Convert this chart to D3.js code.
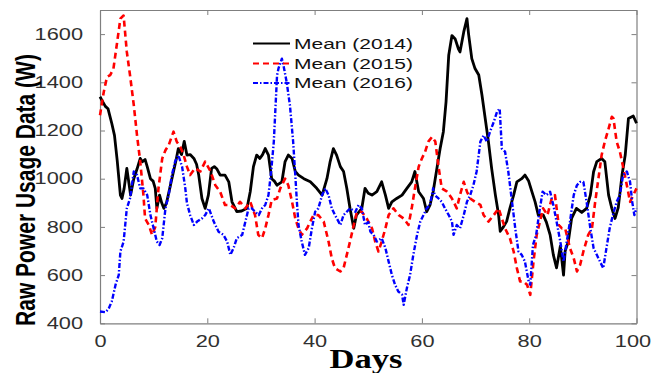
<!DOCTYPE html>
<html><head><meta charset="utf-8">
<script src="https://cdn.jsdelivr.net/npm/d3@7"></script>
<style>
html,body{margin:0;padding:0;background:#fff;}
svg{display:block;}
</style>
</head><body>
<svg id="chart" width="651" height="373"></svg>
<script>
// ---- data ----
const seriesNames = ["Mean (2014)", "Mean (2015)", "Mean (2016)"];
const xTicks = [0, 20, 40, 60, 80, 100];
const yTicks = [400, 600, 800, 1000, 1200, 1400, 1600];

const days2014 = [0,0.5,1,1.5,2.2,2.7,3.2,3.8,4.1,4.5,5,5.4,5.7,6.3,6.9,7.5,7.9,8.4,8.8,9.4,9.9,10.3,10.6,11.1,11.5,11.9,12.4,13,13.7,14.2,14.6,15.2,15.7,16.2,16.8,17.5,18,18.4,19,19.6,20.2,20.8,21.3,21.8,22.4,23.3,24,24.6,25.5,26.4,27.4,28,28.6,29.2,29.8,30.3,30.8,31.4,32,32.5,33,33.9,34.5,35.1,35.8,36.4,37,38,39.2,40.4,41.4,42.3,42.9,43.5,44.1,44.8,45.4,46,46.6,47.3,47.8,48.8,49.4,50,50.7,51.6,52.5,53.2,53.8,54.4,55.3,56.3,57.2,58.1,58.7,59.4,60.3,60.9,61.5,62.1,62.8,63.4,64,64.5,65,65.6,66.2,66.8,67.1,67.8,68.4,68.7,69.3,69.9,70.6,71.2,71.8,72.4,73,73.7,74.3,74.6,75.2,75.8,76.4,77.1,77.7,78.6,79.2,79.9,80.5,81.1,81.7,82.6,83.2,83.9,84.5,85.1,85.8,86.4,86.7,87.3,87.9,88.8,89.8,90.7,91.4,92,92.6,93.5,94.1,94.8,95.4,96,96.6,97.3,97.9,98.5,99.4,100];
const values2014 = [1340,1320,1300,1290,1229,1180,1077,932,918,960,1043,980,932,1000,1040,1084,1070,1080,1050,1000,990,960,877,932,900,877,900,960,1030,1080,1125,1100,1155,1098,1100,1084,1060,1015,918,877,932,1043,1050,1040,1015,1015,987,904,863,866,877,946,1050,1098,1084,1100,1125,1098,1000,990,973,987,1071,1098,1084,1030,1015,1000,987,960,932,1000,1071,1125,1098,1050,1030,960,877,794,849,877,960,940,932,946,987,932,877,904,918,932,960,987,1030,946,918,863,890,946,1043,1125,1195,1319,1512,1594,1580,1539,1526,1609,1664,1600,1498,1457,1430,1346,1250,1154,1043,932,849,782,800,823,877,932,987,1000,1015,990,946,904,849,850,820,767,684,630,720,600,700,740,835,877,860,877,932,1029,1071,1084,1070,932,877,835,880,1015,1098,1250,1260,1230];

const days2015 = [0,0.7,1.3,1.9,2.5,3.2,3.8,4.4,5,5.6,6.3,6.9,7.5,8.1,8.4,9.1,9.7,10.3,10.9,11.6,12.2,12.8,13.7,14.3,15,15.6,16.2,16.8,17.7,18.7,19.6,20.6,21.5,22.4,23.3,24.3,25.2,26.1,27.1,28,28.9,29.5,30.2,30.8,31.4,32,33,33.6,34.5,35.1,35.8,36.4,37,37.6,38.6,39.2,39.8,40.7,41.7,42.6,43.2,43.8,44.8,45.4,46,46.6,47.3,47.9,48.8,49.7,50.7,51.3,51.9,52.5,53.2,53.8,54.7,55.7,56.6,57.5,58.1,58.7,59.4,60,60.6,61.2,61.9,62.5,63.1,63.7,64.7,65.6,66.5,67.1,67.8,68.4,69,69.9,70.9,71.5,72.4,73.4,74.3,74.9,75.5,76.4,77.1,77.7,78.3,78.9,79.6,80.2,80.8,81.4,82,82.6,83.4,84.2,84.8,85.5,86.1,86.7,87.6,88.3,88.9,89.5,90.1,91,91.7,92.3,92.9,93.5,94.1,94.8,95.4,95.7,96.3,96.9,97.5,98.2,98.8,99.4,100];
const values2015 = [1263,1360,1422,1430,1456,1567,1664,1677,1526,1429,1305,1180,1071,932,835,808,767,800,960,1084,1118,1139,1195,1154,1130,1098,1050,1015,1043,1030,1071,1030,973,946,891,891,877,904,877,904,849,767,753,794,849,911,918,960,1000,973,904,835,794,767,794,822,849,849,822,739,670,629,615,629,684,739,808,863,863,835,794,739,698,739,794,849,877,849,835,808,877,960,1050,1084,1112,1154,1174,1154,1050,960,946,918,877,932,987,946,918,904,891,849,822,849,877,835,794,753,698,629,574,574,560,518,656,767,822,877,849,918,932,808,794,794,712,670,615,643,698,767,794,904,1000,1098,1154,1208,1257,1250,1154,1112,1050,973,904,932,960];

const days2016 = [0,1,1.6,2.2,2.9,3.5,3.8,4.4,5,5.6,6.3,6.9,7.5,8.1,8.8,9.4,10,10.6,11.1,11.6,12.2,12.8,13.4,14,14.6,15.3,15.9,16.2,16.8,17.5,18.1,19,19.6,20.3,21.2,22.1,23,23.7,24.3,24.9,25.5,26.5,27.1,27.7,28.3,28.9,29.6,30.2,30.8,31.4,31.9,32.4,32.7,33,33.3,33.9,34.2,34.8,35.4,36,36.4,36.7,37,37.6,38.2,38.9,39.5,40.1,40.7,41.4,42,42.6,43.2,43.8,44.8,45.4,46,46.6,47.6,48.2,48.8,49.4,50,50.4,51,51.6,52.5,53.2,53.8,54.4,55,55.6,56.3,56.6,57.2,57.8,58.4,59.1,59.7,60.3,60.9,61.5,62.1,62.4,63.1,63.7,64.3,65,65.6,65.9,66.5,67.1,67.8,68.4,69,69.6,70.2,70.9,71.5,72.1,72.7,73.4,74,74.5,74.9,75.5,76.1,76.8,77.4,78,78.6,79.2,79.9,80.2,80.7,81.3,81.9,82.5,83.2,83.9,84.5,85.1,85.8,86.4,87,87.6,88.3,88.9,89.5,90.1,90.7,91.4,92,92.6,93.2,93.8,94.4,95,95.6,96.3,96.9,97.5,98.2,98.8,99.2,99.6,100];
const values2016 = [449,446,460,491,560,601,698,739,877,918,1030,1015,960,960,932,849,794,739,725,753,877,932,1015,1071,1098,1050,960,900,849,808,822,835,849,877,822,780,767,739,684,712,753,767,822,877,877,863,849,877,891,932,1030,1154,1291,1429,1460,1498,1470,1400,1305,1154,1015,904,808,739,684,712,794,863,877,932,960,932,877,849,808,849,863,877,863,891,877,808,820,780,767,739,753,712,656,601,560,532,519,477,546,601,684,767,822,849,877,891,960,932,918,904,877,849,822,767,808,794,849,904,932,973,1030,1154,1180,1154,1195,1236,1277,1291,1125,1112,1030,904,794,698,684,656,574,560,725,767,863,946,932,946,891,822,739,656,739,822,932,973,987,987,904,794,712,684,656,629,712,794,849,904,932,1015,1030,987,904,849,877];

// ---- layout ----
const svg = d3.select("#chart");
const L = 100, R = 636.5, T = 10, B = 323.3;
const SX = 1.32; // horizontal stretch of the original figure
const x = d3.scaleLinear().domain([0, 100]).range([L, R]);
const y = d3.scaleLinear().domain([400, 1700]).range([B, T]);
const font = "'Liberation Sans', Arial, sans-serif";
const axisColor = "#7f7f7f";
const textColor = "#303030";

// axes
const gx = svg.append("g").attr("transform", `translate(0,${B})`)
  .call(d3.axisBottom(x).tickValues(xTicks).tickFormat(d3.format("d")).tickSizeInner(-5).tickSizeOuter(0).tickPadding(12));
const gy = svg.append("g").attr("transform", `translate(${L},0)`)
  .call(d3.axisLeft(y).tickValues(yTicks).tickFormat(d3.format("d")).tickSizeInner(-5).tickSizeOuter(0).tickPadding(17));
const gxt = svg.append("g").attr("transform", `translate(0,${T})`)
  .call(d3.axisTop(x).tickValues(xTicks).tickSizeInner(-5).tickSizeOuter(0).tickFormat(""));
const gyr = svg.append("g").attr("transform", `translate(${R},0)`)
  .call(d3.axisRight(y).tickValues(yTicks).tickSizeInner(-5).tickSizeOuter(0).tickFormat(""));
[gx, gy, gxt, gyr].forEach(g => {
  g.selectAll("path.domain").attr("stroke", axisColor).attr("stroke-width", 1.2);
  g.selectAll("line").attr("stroke", axisColor).attr("stroke-width", 1);
});
gx.selectAll("text").attr("font-family", font).attr("font-size", 16.5).attr("fill", textColor)
  .attr("transform", d => d === 100 ? `translate(-4,0) scale(${SX},1)` : `scale(${SX},1)`);
gy.selectAll("text").each(function() {
  const t = d3.select(this);
  const xx = +t.attr("x");
  t.attr("x", 0).attr("transform", `translate(${xx},0) scale(${SX},1)`);
}).attr("font-family", font).attr("font-size", 16.5).attr("fill", textColor);

// lines
const series = [
  {days: days2014, vals: values2014, color: "#000000", dash: null, w: 2.8},
  {days: days2015, vals: values2015, color: "#ff0000", dash: "6,4", w: 2.6},
  {days: days2016, vals: values2016, color: "#0000ff", dash: "5,2,1.5,2", w: 2.4}
];
const line = d3.line().x(d => x(d[0])).y(d => y(d[1]));
series.forEach(s => {
  const pts = s.days.map((d, i) => [d, s.vals[i]]);
  svg.append("path").datum(pts).attr("d", line)
    .attr("fill", "none").attr("stroke", s.color).attr("stroke-width", s.w)
    .attr("stroke-dasharray", s.dash).attr("stroke-linejoin", "round");
});

// legend
const legY = [43.5, 63.5, 83];
series.forEach((s, i) => {
  svg.append("line").attr("x1", 253).attr("x2", 290).attr("y1", legY[i]).attr("y2", legY[i])
    .attr("stroke", s.color).attr("stroke-width", 2).attr("stroke-dasharray", s.dash);
  svg.append("text").attr("transform", `translate(294,${legY[i]}) scale(1.4,1)`)
    .attr("dy", "0.36em").attr("font-family", font).attr("font-size", 15).attr("fill", "#111")
    .text(seriesNames[i]);
});

// axis titles
svg.append("text").attr("transform", `translate(35,190) scale(${SX},1) rotate(-90)`)
  .attr("text-anchor", "middle").attr("font-family", font).attr("font-weight", "bold")
  .attr("font-size", 21).attr("fill", "#000").text("Raw Power Usage Data (W)");
svg.append("text").attr("transform", `translate(366,368) scale(1.28,1)`)
  .attr("text-anchor", "middle").attr("font-family", "'Liberation Serif', 'Times New Roman', serif")
  .attr("font-weight", "bold").attr("font-size", 27).attr("fill", "#000").text("Days");
</script>
</body></html>
